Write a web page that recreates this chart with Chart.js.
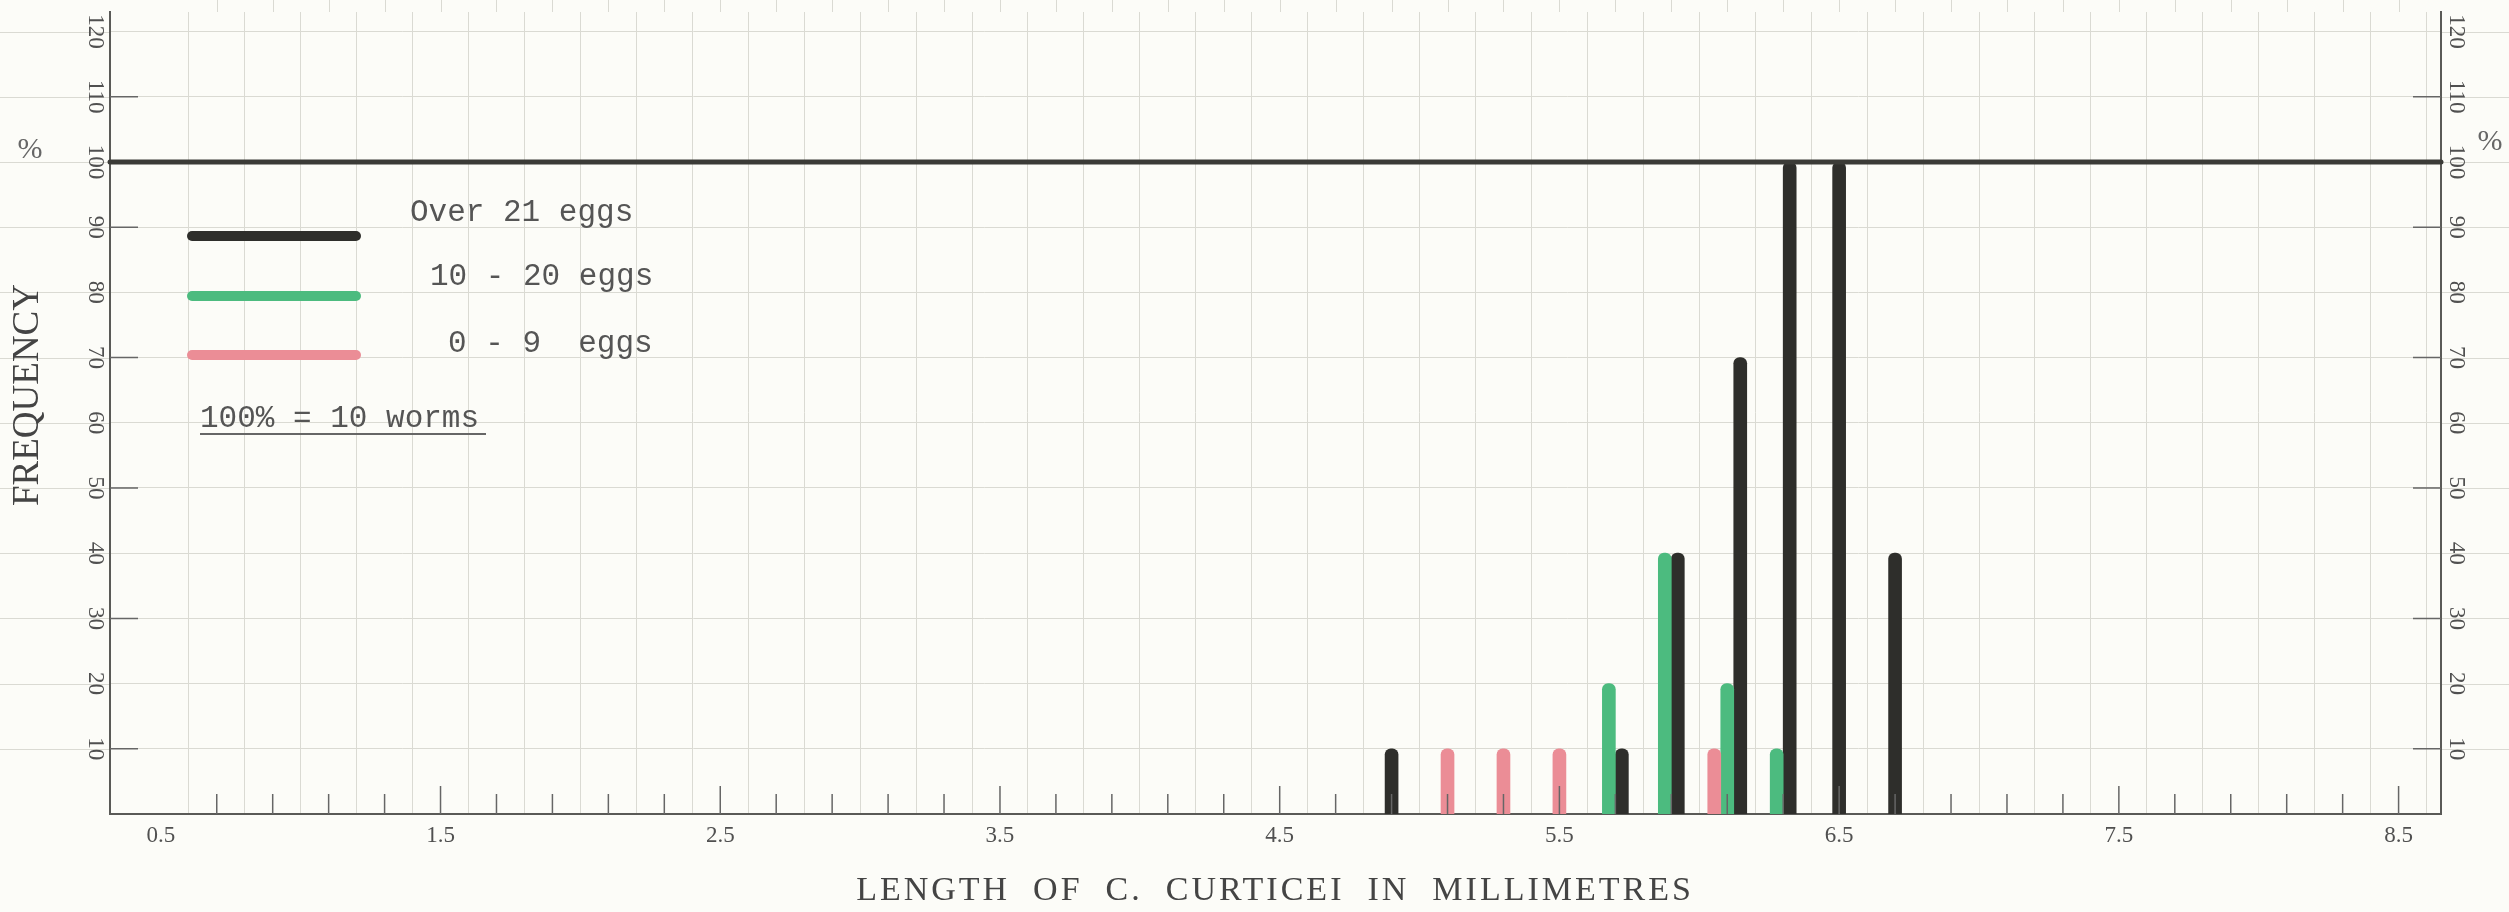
<!DOCTYPE html>
<html>
<head>
<meta charset="utf-8">
<script src="https://cdn.jsdelivr.net/npm/chart.js@4.4.1/dist/chart.umd.min.js"></script>
<style>
  html, body { margin: 0; padding: 0; background: #fcfcf8; }
  canvas { display: block; }
</style>
</head>
<body>
<canvas id="wormChart" width="2509" height="912"></canvas>
<script>
// length classes of C. curticei (mm)
const lengths = [4.9, 5.1, 5.3, 5.5, 5.7, 5.9, 6.1, 6.3, 6.5, 6.7];
// frequency in %, 100% = 10 worms
const over21Eggs = [10, 0, 0, 0, 10, 40, 70, 100, 100, 40];
const eggs10to20 = [0, 0, 0, 0, 20, 40, 20, 10, 0, 0];
const eggs0to9 = [0, 10, 10, 10, 0, 0, 10, 0, 0, 0];

const seriesLabels = ['Over 21 eggs', '10 - 20 eggs', '0 - 9  eggs'];
const xTickLabels = ['0.5', '1.5', '2.5', '3.5', '4.5', '5.5', '6.5', '7.5', '8.5'];
const yTickLabels = ['10', '20', '30', '40', '50', '60', '70', '80', '90', '100', '110', '120'];
const fullLine = 100;
const scaleNote = '100% = 10 worms';
const xTitle = 'LENGTH  OF  C.  CURTICEI  IN  MILLIMETRES';
const yTitle = 'FREQUENCY';

const black = '#2e2e2b';
const green = '#4cbb7f';
const pink = '#eb8d96';
const gridColor = '#dadad3';
const axisColor = '#5a5a57';
const textColor = '#505050';
const serif = "'Liberation Serif', 'DejaVu Serif', serif";
const mono = "'Liberation Mono', 'DejaVu Sans Mono', monospace";

// minor ticks every 0.2 mm, starting at 0.5
const xTicks = [];
for (let v = 0.5; v <= 8.5001; v += 0.2) xTicks.push(Math.round(v * 10) / 10);
const yTicks = yTickLabels.map(Number);

const toPoints = vals => lengths.map((x, i) => ({ x: x, y: vals[i] ? vals[i] : null }));

const paperPlugin = {
  id: 'paper',
  beforeDraw(chart) {
    const { ctx, chartArea: a, scales } = chart;
    ctx.save();
    ctx.fillStyle = '#fcfcf8';
    ctx.fillRect(0, 0, chart.width, chart.height);
    // graph paper continuing outside the frame
    ctx.strokeStyle = gridColor;
    ctx.lineWidth = 1;
    yTicks.forEach(v => {
      const y = Math.round(scales.y.getPixelForValue(v)) + 0.5;
      ctx.beginPath();
      ctx.moveTo(0, y); ctx.lineTo(a.left, y);
      ctx.moveTo(a.right, y); ctx.lineTo(chart.width, y);
      ctx.stroke();
    });
    xTicks.forEach(v => {
      if (Math.abs(v - 0.5) < 0.01) return;
      const x = Math.round(scales.x.getPixelForValue(v)) + 0.5;
      ctx.beginPath();
      ctx.moveTo(x, 0); ctx.lineTo(x, a.top);
      ctx.stroke();
    });
    ctx.restore();
  },
  afterDraw(chart) {
    const { ctx, chartArea: a, scales } = chart;
    const xs = scales.x, ys = scales.y;
    ctx.save();

    // 100 % line
    const y100 = ys.getPixelForValue(fullLine);
    ctx.strokeStyle = '#3b3b37';
    ctx.lineWidth = 5;
    ctx.lineCap = 'round';
    ctx.beginPath();
    ctx.moveTo(a.left, y100); ctx.lineTo(a.right, y100);
    ctx.stroke();

    // x ticks pointing up into the plot
    ctx.lineCap = 'butt';
    ctx.strokeStyle = '#666';
    ctx.lineWidth = 1.5;
    xTicks.forEach(v => {
      if (Math.abs(v - 0.5) < 0.01) return;
      const major = xTickLabels.includes(v.toFixed(1));
      const x = xs.getPixelForValue(v);
      ctx.beginPath();
      ctx.moveTo(x, a.bottom); ctx.lineTo(x, a.bottom - (major ? 28 : 20));
      ctx.stroke();
    });

    // y ticks on both sides at 10, 30, 50 ...
    yTicks.forEach(v => {
      if (v % 20 !== 10) return;
      const y = ys.getPixelForValue(v);
      ctx.beginPath();
      ctx.moveTo(a.left, y); ctx.lineTo(a.left + 28, y);
      ctx.moveTo(a.right, y); ctx.lineTo(a.right - 28, y);
      ctx.stroke();
    });

    // rotated y labels on both sides
    ctx.fillStyle = textColor;
    ctx.font = '23px ' + serif;
    ctx.textAlign = 'center';
    ctx.textBaseline = 'middle';
    yTickLabels.forEach(t => {
      const y = ys.getPixelForValue(Number(t));
      [a.left - 15, a.right + 15].forEach(x => {
        ctx.save();
        ctx.translate(x, y);
        ctx.rotate(Math.PI / 2);
        ctx.fillText(t, 0, 0);
        ctx.restore();
      });
    });

    // axis title on the left
    ctx.save();
    ctx.fillStyle = '#444';
    ctx.font = '37px ' + serif;
    ctx.translate(28, 395);
    ctx.rotate(-Math.PI / 2);
    ctx.fillText(yTitle, 0, 0);
    ctx.restore();

    // percent signs
    ctx.fillStyle = '#666';
    ctx.font = '30px ' + serif;
    ctx.fillText('%', 30, 150);
    ctx.fillText('%', 2490, 142);

    // x title
    ctx.fillStyle = '#444';
    ctx.font = '34px ' + serif;
    ctx.letterSpacing = '3px';
    ctx.fillText(xTitle, 1275, 891);
    ctx.letterSpacing = '0px';

    // legend
    const colors = [black, green, pink];
    const lineY = [236, 296, 355];
    const textY = [213, 277, 344];
    const textX = [410, 430, 448];
    ctx.lineCap = 'round';
    ctx.lineWidth = 10;
    ctx.textAlign = 'left';
    ctx.font = '31px ' + mono;
    ctx.fillStyle = '#555';
    seriesLabels.forEach((lab, i) => {
      ctx.strokeStyle = colors[i];
      ctx.beginPath();
      ctx.moveTo(192, lineY[i]); ctx.lineTo(356, lineY[i]);
      ctx.stroke();
      ctx.fillText(lab, textX[i], textY[i]);
    });
    ctx.fillText(scaleNote, 200, 419);
    ctx.lineCap = 'butt';
    ctx.lineWidth = 2;
    ctx.strokeStyle = '#666';
    ctx.beginPath();
    ctx.moveTo(200, 434); ctx.lineTo(486, 434);
    ctx.stroke();

    ctx.restore();
  }
};

new Chart(document.getElementById('wormChart'), {
  type: 'bar',
  data: {
    datasets: [
      { label: seriesLabels[2], data: toPoints(eggs0to9), backgroundColor: pink },
      { label: seriesLabels[1], data: toPoints(eggs10to20), backgroundColor: green },
      { label: seriesLabels[0], data: toPoints(over21Eggs), backgroundColor: black }
    ]
  },
  options: {
    responsive: false,
    animation: false,
    devicePixelRatio: 1,
    layout: { padding: { top: 12, left: 0, right: 0, bottom: 0 } },
    datasets: {
      bar: { barThickness: 13, skipNull: true, borderRadius: 6, borderSkipped: 'start' }
    },
    plugins: {
      legend: { display: false },
      tooltip: { enabled: false }
    },
    scales: {
      x: {
        type: 'linear',
        min: 0.42,
        max: 8.55,
        afterBuildTicks: s => { s.ticks = xTicks.map(v => ({ value: v })); },
        afterFit: s => { s.height = 98; },
        grid: {
          color: c => (c.tick && Math.abs(c.tick.value - 0.5) < 0.01) ? 'rgba(0,0,0,0)' : gridColor,
          lineWidth: 1,
          drawTicks: false
        },
        border: { display: true, color: axisColor, width: 2 },
        ticks: {
          autoSkip: false,
          maxRotation: 0,
          padding: 8,
          color: textColor,
          font: { family: serif, size: 23 },
          callback: v => xTickLabels.includes(Number(v).toFixed(1)) ? Number(v).toFixed(1) : ''
        }
      },
      y: {
        min: 0,
        max: 123,
        afterBuildTicks: s => { s.ticks = yTicks.map(v => ({ value: v })); },
        afterFit: s => { s.width = 110; },
        ticks: { display: false },
        grid: { color: gridColor, lineWidth: 1, drawTicks: false },
        border: { display: true, color: axisColor, width: 2 }
      },
      y2: {
        position: 'right',
        min: 0,
        max: 123,
        afterFit: s => { s.width = 68; },
        ticks: { display: false },
        grid: { display: false, drawTicks: false },
        border: { display: true, color: axisColor, width: 2 }
      }
    }
  },
  plugins: [paperPlugin]
});
</script>
</body>
</html>
